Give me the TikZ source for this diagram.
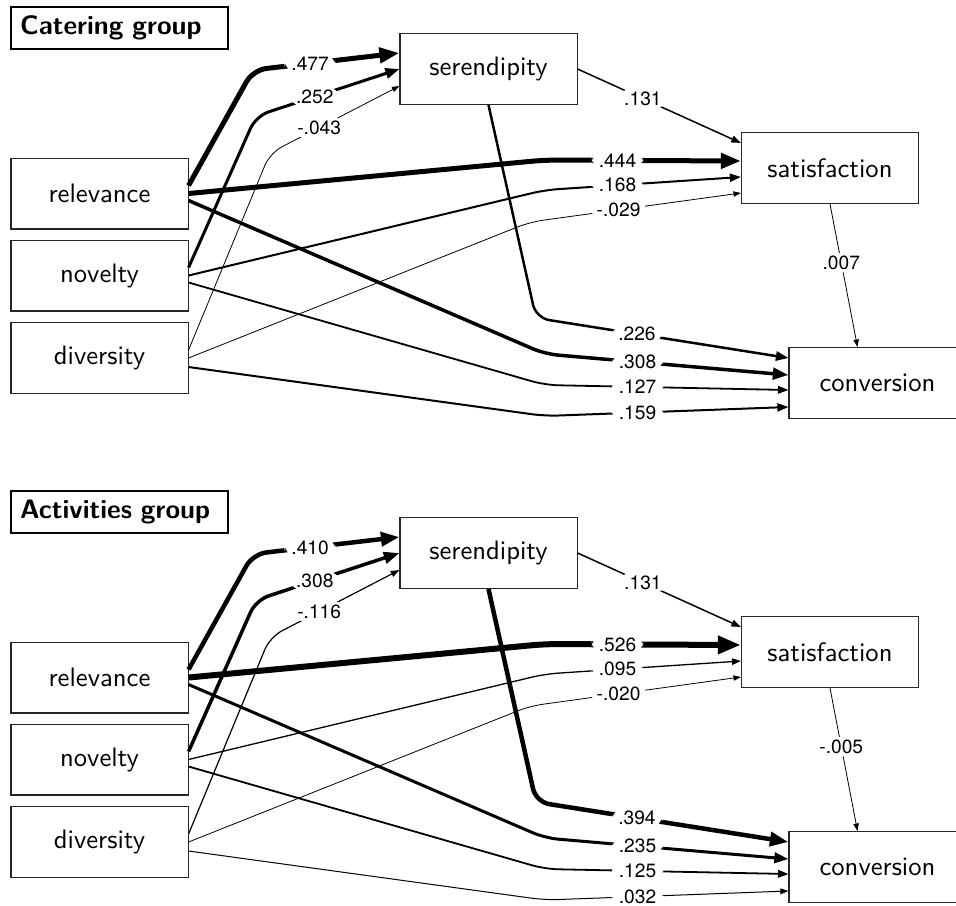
\documentclass[tikz,border=0pt]{standalone}
\usepackage{fontspec}
\newfontfamily\labfont{TeX Gyre Heros}
\usetikzlibrary{arrows.meta,calc}
\tikzset{
  box/.style={draw=black!85, line width=0.4pt, minimum width=66.4pt, minimum height=26.6pt, inner sep=0pt, font=\sffamily},
  titlebox/.style={draw, line width=0.75pt, text width=74.6pt, inner xsep=3.4pt, inner ysep=0pt, minimum height=15.75pt, align=left, font=\sffamily\bfseries},
  edge/.style={-{Triangle[length=1.9pt 3, width=1.3pt 2.3]}, rounded corners=5pt},
  pw/.style={line width=#1*0.375pt},
  lab/.style={fill=white, inner xsep=2.6pt, inner ysep=1pt, font=\labfont\fontsize{7.2}{8}\selectfont},
}
\begin{document}
\begin{tikzpicture}[x=0.375pt, y=-0.375pt]
\useasboundingbox (0,0) rectangle (956,905);
% ---------------- Catering group ----------------
\node[titlebox] (t1) at (119.5,28) {Catering group};
\node[box] (rel1) at (99.5,193.5) {relevance};
\node[box] (nov1) at (99.5,275.5) {novelty};
\node[box] (div1) at (99.5,358) {diversity};
\node[box] (ser1) at (488.5,69) {serendipity};
\node[box] (sat1) at (830,168) {satisfaction};
\node[box] (con1) at (877.5,383) {conversion};

\draw[edge,pw=5] ($(rel1.east)+(0,-8)$) -- (253,70) -- node[lab,pos=0.39]{.477} ($(ser1.west)+(0,-16)$);
\draw[edge,pw=3] ($(nov1.east)+(0,-8)$) -- (256,116) -- node[lab,pos=0.41]{.252} (ser1.west);
\draw[edge,pw=0.8] ($(div1.east)+(0,-8)$) -- (270,153) -- node[lab,pos=0.38]{-.043} ($(ser1.west)+(0,17)$);
\draw[edge,pw=1.5] (ser1.east) -- node[lab,pos=0.4]{.131} ($(sat1.west)+(0,-25)$);
\draw[edge,pw=5] (rel1.east) -- (545,160) -- node[lab,pos=0.37]{.444} ($(sat1.west)+(0,-7)$);
\draw[edge,pw=2] (nov1.east) -- (545,190) -- node[lab,pos=0.37]{.168} ($(sat1.west)+(0,9)$);
\draw[edge,pw=0.8] (div1.east) -- (530,222) -- node[lab,pos=0.42]{-.029} ($(sat1.west)+(0,25)$);
\draw[edge,pw=2.5] (ser1.south) -- (536,318) -- node[lab,pos=0.40]{.226} ($(con1.west)+(0,-25)$);
\draw[edge,pw=3.5] ($(rel1.east)+(0,7)$) -- (545,354) -- node[lab,pos=0.38]{.308} ($(con1.west)+(0,-8)$);
\draw[edge,pw=1.8] ($(nov1.east)+(0,7)$) -- (545,385) -- node[lab,pos=0.38]{.127} ($(con1.west)+(0,7)$);
\draw[edge,pw=2] ($(div1.east)+(0,9)$) -- (545,416) -- node[lab,pos=0.38]{.159} ($(con1.west)+(0,24)$);
\draw[edge,pw=0.8] (sat1.south) -- node[lab,pos=0.41]{.007} ($(con1.north)+(-20,0)$);

% ---------------- Activities group ----------------
\begin{scope}[shift={(0,484)}]
\node[titlebox] (t2) at (119.5,28) {Activities group};
\node[box] (rel2) at (99.5,193.5) {relevance};
\node[box] (nov2) at (99.5,275.5) {novelty};
\node[box] (div2) at (99.5,358) {diversity};
\node[box] (ser2) at (488.5,69) {serendipity};
\node[box] (sat2) at (830,168) {satisfaction};
\node[box] (con2) at (877.5,383) {conversion};

\draw[edge,pw=4.5] ($(rel2.east)+(0,-8)$) -- (253,70) -- node[lab,pos=0.39]{.410} ($(ser2.west)+(0,-16)$);
\draw[edge,pw=3.5] ($(nov2.east)+(0,-8)$) -- (256,116) -- node[lab,pos=0.41]{.308} (ser2.west);
\draw[edge,pw=1.2] ($(div2.east)+(0,-8)$) -- (270,153) -- node[lab,pos=0.38]{-.116} ($(ser2.west)+(0,17)$);
\draw[edge,pw=1.5] (ser2.east) -- node[lab,pos=0.4]{.131} ($(sat2.west)+(0,-25)$);
\draw[edge,pw=6] (rel2.east) -- (545,160) -- node[lab,pos=0.37]{.526} ($(sat2.west)+(0,-7)$);
\draw[edge,pw=1.3] (nov2.east) -- (545,190) -- node[lab,pos=0.37]{.095} ($(sat2.west)+(0,9)$);
\draw[edge,pw=0.8] (div2.east) -- (530,222) -- node[lab,pos=0.42]{-.020} ($(sat2.west)+(0,25)$);
\draw[edge,pw=4.5] (ser2.south) -- (536,318) -- node[lab,pos=0.40]{.394} ($(con2.west)+(0,-25)$);
\draw[edge,pw=3] ($(rel2.east)+(0,7)$) -- (545,354) -- node[lab,pos=0.38]{.235} ($(con2.west)+(0,-8)$);
\draw[edge,pw=1.8] ($(nov2.east)+(0,7)$) -- (545,385) -- node[lab,pos=0.38]{.125} ($(con2.west)+(0,7)$);
\draw[edge,pw=1] ($(div2.east)+(0,9)$) -- (545,416) -- node[lab,pos=0.38]{.032} ($(con2.west)+(0,24)$);
\draw[edge,pw=0.8] (sat2.south) -- node[lab,pos=0.41]{-.005} ($(con2.north)+(-20,0)$);
\end{scope}
\end{tikzpicture}
\end{document}
